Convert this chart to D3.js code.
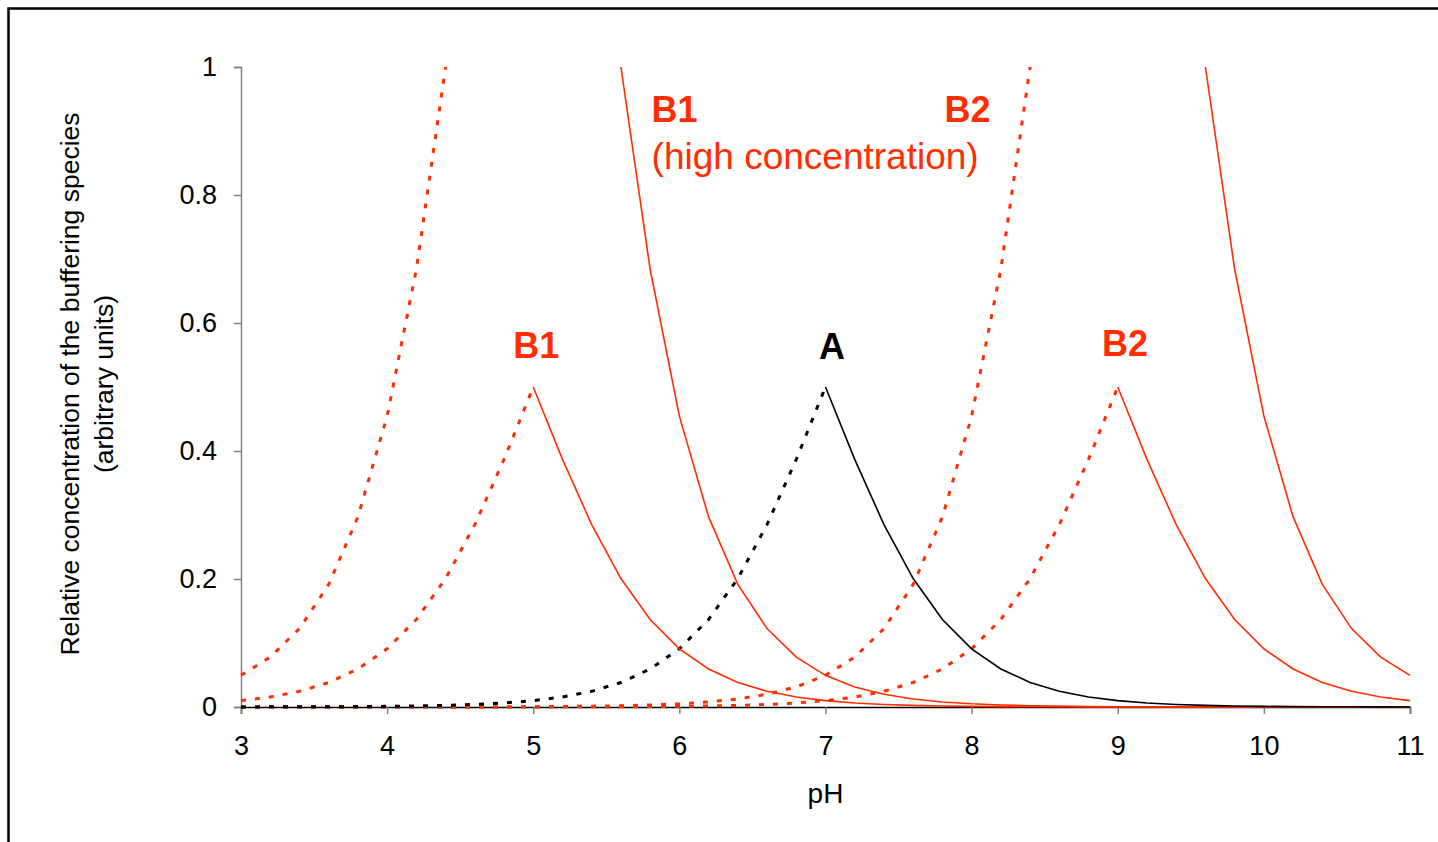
<!DOCTYPE html>
<meta charset="utf-8">
<script src="https://d3js.org/d3.v7.min.js"></script>
<style>
  body { margin: 0; background: #fff; }
  text { font-family: "Liberation Sans", Arial, sans-serif; }
</style>
<div id="my_dataviz"></div>
<script>
  // pH grid shared by all the curves (step 0.2)
  var pH = [3.0, 3.2, 3.4, 3.6, 3.8, 4.0, 4.2, 4.4, 4.6, 4.8,
            5.0, 5.2, 5.4, 5.6, 5.8, 6.0, 6.2, 6.4, 6.6, 6.8,
            7.0, 7.2, 7.4, 7.6, 7.8, 8.0, 8.2, 8.4, 8.6, 8.8,
            9.0, 9.2, 9.4, 9.6, 9.8, 10.0, 10.2, 10.4, 10.6, 10.8, 11.0];

  var _ = null;

  // A (black), dotted below the peak, solid above
  var aAcid = [0.0001, 0.0002, 0.0003, 0.0004, 0.0006, 0.001, 0.0016, 0.0025, 0.004, 0.0063,
               0.0099, 0.0156, 0.0245, 0.0383, 0.0594, 0.0909, 0.1368, 0.2007, 0.285, 0.387,
               0.5, _, _, _, _, _, _, _, _, _,
               _, _, _, _, _, _, _, _, _, _, _];
  var aBase = [_, _, _, _, _, _, _, _, _, _,
               _, _, _, _, _, _, _, _, _, _,
               0.5, 0.387, 0.285, 0.2007, 0.1368, 0.0909, 0.0594, 0.0383, 0.0245, 0.0156,
               0.0099, 0.0063, 0.004, 0.0025, 0.0016, 0.001, 0.0006, 0.0004, 0.0003, 0.0002, 0.0001];

  // B1 (low concentration)
  var b1Acid = [0.0099, 0.0156, 0.0245, 0.0383, 0.0594, 0.0909, 0.1368, 0.2007, 0.285, 0.387,
                0.5, _, _, _, _, _, _, _, _, _,
                _, _, _, _, _, _, _, _, _, _,
                _, _, _, _, _, _, _, _, _, _, _];
  var b1Base = [_, _, _, _, _, _, _, _, _, _,
                0.5, 0.387, 0.285, 0.2007, 0.1368, 0.0909, 0.0594, 0.0383, 0.0245, 0.0156,
                0.0099, 0.0063, 0.004, 0.0025, 0.0016, 0.001, 0.0006, 0.0004, 0.0003, 0.0002,
                0.0001, 0, 0, 0, 0, 0, 0, 0, 0, 0, 0];

  // B2 (low concentration)
  var b2Acid = [0, 0, 0, 0, 0, 0, 0, 0, 0, 0,
                0.0001, 0.0002, 0.0003, 0.0004, 0.0006, 0.001, 0.0016, 0.0025, 0.004, 0.0063,
                0.0099, 0.0156, 0.0245, 0.0383, 0.0594, 0.0909, 0.1368, 0.2007, 0.285, 0.387,
                0.5, _, _, _, _, _, _, _, _, _, _];
  var b2Base = [_, _, _, _, _, _, _, _, _, _,
                _, _, _, _, _, _, _, _, _, _,
                _, _, _, _, _, _, _, _, _, _,
                0.5, 0.387, 0.285, 0.2007, 0.1368, 0.0909, 0.0594, 0.0383, 0.0245, 0.0156, 0.0099];

  // B1 (high concentration)
  var b1HiAcid = [0.0495, 0.078, 0.1225, 0.1915, 0.297, 0.4545, 0.684, 1.0, _, _,
                  _, _, _, _, _, _, _, _, _, _,
                  _, _, _, _, _, _, _, _, _, _,
                  _, _, _, _, _, _, _, _, _, _, _];
  var b1HiBase = [_, _, _, _, _, _, _, _, _, _,
                  _, _, _, 1.0, 0.684, 0.4545, 0.297, 0.1915, 0.1225, 0.078,
                  0.0495, 0.0314, 0.0199, 0.0125, 0.0079, 0.005, 0.0032, 0.002, 0.0013, 0.0008,
                  0.0005, 0.0003, 0.0002, 0.0001, 0.0001, 0, 0, 0, 0, 0, 0];

  // B2 (high concentration)
  var b2HiAcid = [0, 0, 0, 0, 0, 0, 0, 0, 0, 0,
                  0.0005, 0.0008, 0.0013, 0.002, 0.0032, 0.005, 0.0079, 0.0125, 0.0199, 0.0314,
                  0.0495, 0.078, 0.1225, 0.1915, 0.297, 0.4545, 0.684, 1.0, _, _,
                  _, _, _, _, _, _, _, _, _, _, _];
  var b2HiBase = [_, _, _, _, _, _, _, _, _, _,
                  _, _, _, _, _, _, _, _, _, _,
                  _, _, _, _, _, _, _, _, _, _,
                  _, _, _, 1.0, 0.684, 0.4545, 0.297, 0.1915, 0.1225, 0.078, 0.0495];

  var xTicks = [3, 4, 5, 6, 7, 8, 9, 10, 11];
  var yTicks = [0, 0.2, 0.4, 0.6, 0.8, 1];

  var red = "#ff2d00";

  // set the dimensions and margins of the graph
  var margin = {top: 67, right: 28, bottom: 135, left: 241},
      width = 1438 - margin.left - margin.right,
      height = 842 - margin.top - margin.bottom;

  var root = d3.select("#my_dataviz")
    .append("svg")
      .attr("width", 1438)
      .attr("height", 842);

  // outer frame
  root.append("rect")
    .attr("x", 8.5)
    .attr("y", 8.5)
    .attr("width", 1500)
    .attr("height", 900)
    .attr("fill", "none")
    .attr("stroke", "#000")
    .attr("stroke-width", 2.5);

  var svg = root.append("g")
    .attr("transform", "translate(" + margin.left + "," + margin.top + ")");

  var x = d3.scaleLinear()
    .domain([3, 11])
    .range([0, width]);

  var y = d3.scaleLinear()
    .domain([0, 1])
    .range([height, 0]);

  // Y axis
  var yAxis = svg.append("g")
    .call(d3.axisLeft(y).tickValues(yTicks).tickSize(7).tickPadding(17)
      .tickFormat(function(d) { return String(d); }));
  yAxis.select(".domain").attr("stroke", "#808080").attr("stroke-width", 1.5);
  yAxis.selectAll(".tick line").attr("stroke", "#808080").attr("stroke-width", 1.5);
  yAxis.selectAll(".tick text").attr("fill", "#000").style("font-size", "27px");

  // X axis
  var xAxis = svg.append("g")
    .attr("transform", "translate(0," + height + ")")
    .call(d3.axisBottom(x).tickValues(xTicks).tickSize(7).tickPadding(22));
  xAxis.select(".domain").attr("stroke", "#000").attr("stroke-width", 1.5);
  xAxis.selectAll(".tick line").attr("stroke", "#808080").attr("stroke-width", 1.5);
  xAxis.selectAll(".tick text").attr("fill", "#000").style("font-size", "27px");

  var line = d3.line()
    .defined(function(d) { return d[1] !== null; })
    .x(function(d) { return x(d[0]); })
    .y(function(d) { return y(d[1]); });

  var series = [
    {values: b2HiAcid, color: red, dotted: true},
    {values: b2Acid, color: red, dotted: true},
    {values: b1HiAcid, color: red, dotted: true},
    {values: b1Acid, color: red, dotted: true},
    {values: aAcid, color: "#000", dotted: true},
    {values: b1HiBase, color: red, dotted: false},
    {values: b1Base, color: red, dotted: false},
    {values: b2HiBase, color: red, dotted: false},
    {values: b2Base, color: red, dotted: false},
    {values: aBase, color: "#000", dotted: false}
  ];

  svg.append("g")
    .selectAll("path")
    .data(series)
    .enter()
    .append("path")
      .attr("fill", "none")
      .attr("stroke", function(d) { return d.color; })
      .attr("stroke-width", function(d) { return d.dotted ? 3 : 1.6; })
      .attr("stroke-dasharray", function(d) { return d.dotted ? "5,9" : null; })
      .attr("d", function(d) {
        return line(pH.map(function(p, i) { return [p, d.values[i]]; }));
      });

  // curve labels
  var labels = [
    {text: "B1", x: 5.02, y: 0.545, color: red},
    {text: "A", x: 7.045, y: 0.544, color: "#000"},
    {text: "B2", x: 9.05, y: 0.548, color: red},
    {text: "B1", x: 5.81, y: 0.914, color: red, anchor: "start"},
    {text: "B2", x: 8.13, y: 0.914, color: red, anchor: "end"}
  ];
  svg.selectAll("text.curve_label")
    .data(labels)
    .enter()
    .append("text")
      .attr("class", "curve_label")
      .attr("x", function(d) { return x(d.x); })
      .attr("y", function(d) { return y(d.y); })
      .attr("text-anchor", function(d) { return d.anchor || "middle"; })
      .attr("fill", function(d) { return d.color; })
      .style("font-size", "36px")
      .style("font-weight", "bold")
      .text(function(d) { return d.text; });

  svg.append("text")
    .attr("x", x(5.81))
    .attr("y", y(0.84))
    .attr("fill", red)
    .style("font-size", "37px")
    .text("(high concentration)");

  // axis titles
  svg.append("text")
    .attr("text-anchor", "middle")
    .attr("x", x(7))
    .attr("y", height + 96)
    .style("font-size", "28px")
    .text("pH");

  root.append("text")
    .attr("text-anchor", "middle")
    .attr("transform", "translate(79,384) rotate(-90)")
    .style("font-size", "26.5px")
    .text("Relative concentration of the buffering species");

  root.append("text")
    .attr("text-anchor", "middle")
    .attr("transform", "translate(113,384) rotate(-90)")
    .style("font-size", "26.5px")
    .text("(arbitrary units)");
</script>
